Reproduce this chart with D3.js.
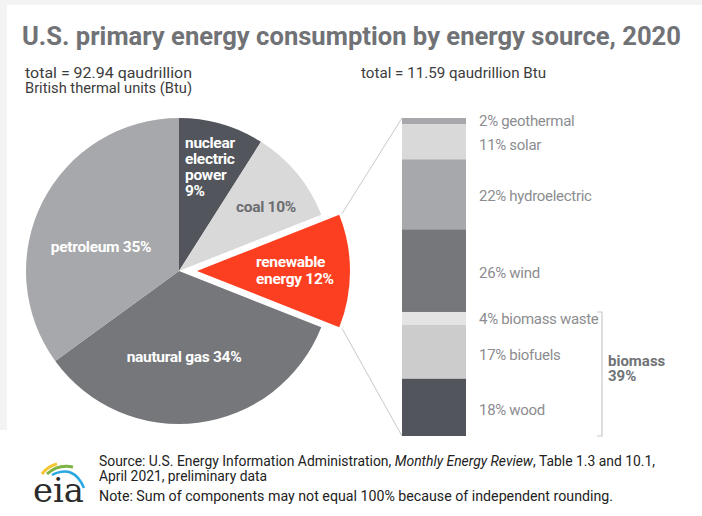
<!DOCTYPE html>
<html>
<head>
<meta charset="utf-8">
<script src="https://cdn.jsdelivr.net/npm/d3@7"></script>
<style>
  body { margin: 0; background: #fff; }
  svg { display: block; font-family: Roboto, "Liberation Sans", sans-serif; }
</style>
</head>
<body>
<svg width="702" height="516"></svg>
<script>
// pie: share of total energy (%)
const pieCategories = ['nuclear electric power', 'coal', 'renewable energy', 'natural gas', 'petroleum'];
const pieValues = [9, 10, 12, 34, 35];
const pieColors = ['#52555c', '#d9d9d9', '#fd3f21', '#75777b', '#a7a8ab'];

// stacked bar: share of renewables (%), top to bottom
const barCategories = ['geothermal', 'solar', 'hydroelectric', 'wind', 'biomass waste', 'biofuels', 'wood'];
const barValues = [2, 11, 22, 26, 4, 17, 18];
const barColors = ['#a7a8ab', '#d9d9d9', '#a7a8ab', '#75777b', '#e4e4e4', '#cccccc', '#52555c'];

const svg = d3.select('svg');

// faint page frame
svg.append('rect').attr('x', 0).attr('y', 0).attr('width', 702).attr('height', 5).attr('fill', '#f3f3f3');
svg.append('rect').attr('x', 0).attr('y', 0).attr('width', 7).attr('height', 430).attr('fill', '#f3f3f3');

// title + totals
svg.append('text')
    .attr('x', 22).attr('y', 45)
    .attr('font-size', 25).attr('font-weight', 700)
    .attr('fill', '#707276')
    .attr('textLength', 659).attr('lengthAdjust', 'spacingAndGlyphs')
    .text('U.S. primary energy consumption by energy source, 2020');

const sub = svg.append('g').attr('font-size', 14).attr('fill', '#3c3c3c');
sub.append('text').attr('x', 25).attr('y', 78).attr('textLength', 167).attr('lengthAdjust', 'spacingAndGlyphs')
    .text('total = 92.94 qaudrillion');
sub.append('text').attr('x', 25).attr('y', 93).attr('textLength', 167).attr('lengthAdjust', 'spacingAndGlyphs')
    .text('British thermal units (Btu)');
sub.append('text').attr('x', 361).attr('y', 78).attr('textLength', 185).attr('lengthAdjust', 'spacingAndGlyphs')
    .text('total = 11.59 qaudrillion Btu');

// ---- pie ----
const radius = 153;
const pieG = svg.append('g').attr('transform', 'translate(179,271)');

const pie = d3.pie().sort(null).value(d => d);
const arcs = pie(pieValues);
const arc = d3.arc().innerRadius(0).outerRadius(radius);
const explode = 18;

function offset(d, i) {
    if (i !== 2) return [0, 0];
    const a = (d.startAngle + d.endAngle) / 2;
    return [explode * Math.sin(a), -explode * Math.cos(a)];
}

pieG.selectAll('path.slice')
    .data(arcs)
    .join('path')
        .attr('class', 'slice')
        .attr('d', arc)
        .attr('fill', (d, i) => pieColors[i])
        .attr('transform', (d, i) => `translate(${offset(d, i)})`);

// connector lines from renewable slice to bar
const ren = arcs[2];
const renOff = offset(ren, 2);
const corner = a => [179 + renOff[0] + (radius + 3) * Math.sin(a), 271 + renOff[1] - (radius + 3) * Math.cos(a)];

// ---- stacked bar ----
const barX = 402, barW = 64;
const y = d3.scaleLinear().domain([0, d3.sum(barValues)]).range([118, 436]);
const stacked = [];
let acc = 0;
barValues.forEach((v, i) => { stacked.push({ name: barCategories[i], value: v, y0: acc, y1: acc + v, i }); acc += v; });

svg.append('g').attr('stroke', '#c9c9c9').attr('stroke-width', 1).attr('fill', 'none')
    .selectAll('line')
    .data([[corner(ren.startAngle), [barX, y(0)]], [corner(ren.endAngle), [barX, y(acc)]]])
    .join('line')
        .attr('x1', d => d[0][0]).attr('y1', d => d[0][1])
        .attr('x2', d => d[1][0]).attr('y2', d => d[1][1]);

svg.append('g').selectAll('rect')
    .data(stacked)
    .join('rect')
        .attr('x', barX)
        .attr('y', d => y(d.y0))
        .attr('width', barW)
        .attr('height', d => y(d.y1) - y(d.y0))
        .attr('fill', d => barColors[d.i]);

const labelNudge = [0, 3, 1, 2, 0, 3, 2];
svg.append('g').attr('font-size', 15).attr('fill', '#8c8d90').attr('letter-spacing', -0.3)
    .selectAll('text')
    .data(stacked)
    .join('text')
        .attr('x', 479)
        .attr('y', d => (y(d.y0) + y(d.y1)) / 2 + labelNudge[d.i])
        .attr('dy', '0.35em')
        .text(d => `${d.value}% ${d.name}`);

// biomass bracket
const bioStart = y(stacked[4].y0), bioEnd = y(acc);
svg.append('path')
    .attr('d', `M597,${bioStart}H602V${bioEnd}H597`)
    .attr('fill', 'none').attr('stroke', '#c9c9c9').attr('stroke-width', 1.2);
const bio = svg.append('text').attr('font-size', 15).attr('font-weight', 700).attr('fill', '#707276');
bio.append('tspan').attr('x', 608).attr('y', 366).text('biomass');
bio.append('tspan').attr('x', 608).attr('y', 381).text(`${d3.sum(barValues.slice(4))}%`);

// pie labels
const pieLabels = [
    { lines: ['nuclear', 'electric', 'power', `${pieValues[0]}%`], x: 185, y: 143, anchor: 'start', fill: '#fff', step: 16 },
    { lines: [`coal ${pieValues[1]}%`], x: 266, y: 207, anchor: 'middle', fill: '#6b6d71', step: 16 },
    { lines: ['renewable', `energy ${pieValues[2]}%`], x: 256, y: 262, anchor: 'start', fill: '#fff', step: 17 },
    { lines: [`nautural gas ${pieValues[3]}%`], x: 184, y: 357, anchor: 'middle', fill: '#fff', step: 16 },
    { lines: [`petroleum ${pieValues[4]}%`], x: 101, y: 247, anchor: 'middle', fill: '#fff', step: 16 }
];
const pl = svg.append('g').attr('font-size', 15.5).attr('font-weight', 700).attr('letter-spacing', -0.3);
pieLabels.forEach(l => {
    const t = pl.append('text').attr('text-anchor', l.anchor).attr('fill', l.fill);
    l.lines.forEach((s, k) => {
        t.append('tspan').attr('x', l.x).attr('y', l.y + k * l.step).attr('dy', '0.35em').text(s);
    });
});

// ---- footer ----
const logo = svg.append('g');
logo.append('path').attr('d', 'M42,474 Q48,466 57,464').attr('stroke', '#f2c531').attr('stroke-width', 3).attr('fill', 'none');
logo.append('path').attr('d', 'M47,474 Q58,464 73,467').attr('stroke', '#7cb342').attr('stroke-width', 3).attr('fill', 'none');
logo.append('path').attr('d', 'M52,475 Q74,464 84,488').attr('stroke', '#29a7e1').attr('stroke-width', 2.5).attr('fill', 'none');
logo.append('text').attr('x', 33).attr('y', 502)
    .attr('font-family', '"DejaVu Serif", "Liberation Serif", serif')
    .attr('font-size', 33).attr('fill', '#2b2b2b')
    .attr('textLength', 51).attr('lengthAdjust', 'spacingAndGlyphs')
    .text('eia');

const foot = svg.append('g').attr('font-size', 14).attr('fill', '#222');
const src = foot.append('text').attr('x', 99).attr('y', 466)
    .attr('textLength', 556).attr('lengthAdjust', 'spacingAndGlyphs');
src.append('tspan').text('Source: U.S. Energy Information Administration, ');
src.append('tspan').attr('font-style', 'italic').text('Monthly Energy Review');
src.append('tspan').text(', Table 1.3 and 10.1,');
foot.append('text').attr('x', 99).attr('y', 481).attr('textLength', 168).attr('lengthAdjust', 'spacingAndGlyphs')
    .text('April 2021, preliminary data');
foot.append('text').attr('x', 99).attr('y', 501).attr('textLength', 514).attr('lengthAdjust', 'spacingAndGlyphs')
    .text('Note: Sum of components may not equal 100% because of independent rounding.');
</script>
</body>
</html>
